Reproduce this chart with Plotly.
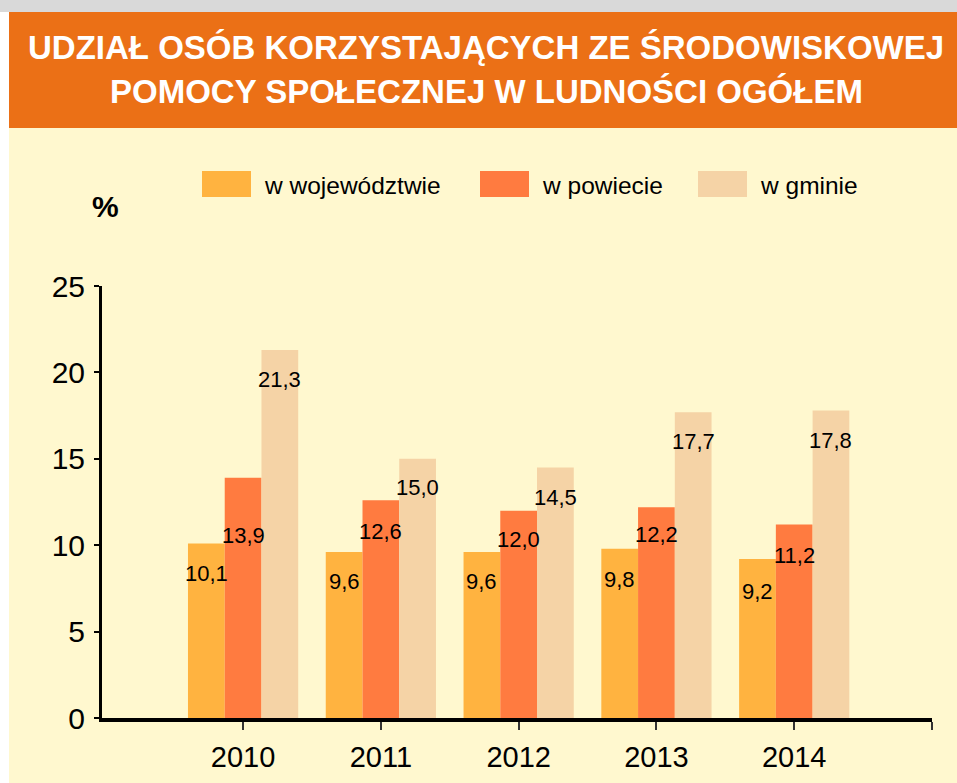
import plotly.graph_objects as go

# --- data ---------------------------------------------------------------
years = ["2010", "2011", "2012", "2013", "2014"]
series_names = ["w województwie", "w powiecie", "w gminie"]
woj = [10.1, 9.6, 9.6, 9.8, 9.2]
pow_ = [13.9, 12.6, 12.0, 12.2, 11.2]
gmi = [21.3, 15.0, 14.5, 17.7, 17.8]
series_values = [woj, pow_, gmi]
y_ticks = [0, 5, 10, 15, 20, 25]

# --- style --------------------------------------------------------------
colors = ["#FFB340", "#FF7B40", "#F5D3A6"]
bg = "#FFF8CF"
header = "#EB7016"
font_family = "Liberation Sans, Arial, sans-serif"
# how far (px) each value label sits below the top of its bar
label_drop = [
    [30, 29, 29, 31, 32],
    [58, 31, 29, 27, 31],
    [30, 29, 30, 29, 30],
]

W, H = 957, 783
L, R, T, B = 102, 25, 286, 65
PW, PH = W - L - R, H - T - B


def px_x(px):
    return (px - L) / PW


def px_y(py):
    return (H - B - py) / PH


BARGAP = 0.2
n_series = len(series_values)
bar_w = (1 - BARGAP) / n_series
xs = list(range(len(years)))

fig = go.Figure()
for k, (name, vals) in enumerate(zip(series_names, series_values)):
    fig.add_trace(go.Bar(
        x=xs, y=vals, name=name,
        marker=dict(color=colors[k], line=dict(width=0)),
        showlegend=False,
    ))

annotations = []
# value labels with a decimal comma
for k, vals in enumerate(series_values):
    off = (k - (n_series - 1) / 2) * bar_w
    for i, v in enumerate(vals):
        annotations.append(dict(
            x=xs[i] + off, y=v, xref="x", yref="y",
            text=f"{v:.1f}".replace(".", ","),
            showarrow=False, yanchor="middle", xanchor="center",
            yshift=-label_drop[k][i],
            font=dict(family=font_family, size=22, color="#000"),
        ))

# title lines
for text, yc in [("UDZIAŁ OSÓB KORZYSTAJĄCYCH ZE ŚRODOWISKOWEJ", 47),
                 ("POMOCY SPOŁECZNEJ W LUDNOŚCI OGÓŁEM", 92)]:
    annotations.append(dict(
        x=px_x(486), y=px_y(yc), xref="paper", yref="paper",
        text=f"<b>{text}</b>", showarrow=False,
        xanchor="center", yanchor="middle",
        font=dict(family=font_family, size=33, color="white"),
    ))

# unit label
annotations.append(dict(
    x=px_x(105), y=px_y(206), xref="paper", yref="paper",
    text="<b>%</b>", showarrow=False, xanchor="center", yanchor="middle",
    font=dict(family=font_family, size=30, color="#000"),
))

shapes = [
    dict(type="rect", xref="paper", yref="paper", layer="below",
         x0=px_x(0), x1=px_x(W), y0=px_y(0), y1=px_y(12),
         fillcolor="#D9D9D9", line=dict(width=0)),
    dict(type="rect", xref="paper", yref="paper", layer="below",
         x0=px_x(0), x1=px_x(9), y0=px_y(12), y1=px_y(H),
         fillcolor="white", line=dict(width=0)),
    dict(type="rect", xref="paper", yref="paper", layer="below",
         x0=px_x(9), x1=px_x(W), y0=px_y(12), y1=px_y(128),
         fillcolor=header, line=dict(width=0)),
]

# legend: wide swatches with labels
legend_x = [202, 480, 698]
for k, name in enumerate(series_names):
    x0 = legend_x[k]
    shapes.append(dict(
        type="rect", xref="paper", yref="paper",
        x0=px_x(x0), x1=px_x(x0 + 49), y0=px_y(197), y1=px_y(171),
        fillcolor=colors[k], line=dict(width=0),
    ))
    annotations.append(dict(
        x=px_x(x0 + 60), y=px_y(185), xref="paper", yref="paper",
        text=name, showarrow=False, xanchor="left", yanchor="middle",
        font=dict(family=font_family, size=24.5, color="#000"),
    ))

fig.update_layout(
    width=W, height=H,
    margin=dict(l=L, r=R, t=T, b=B, pad=0, autoexpand=False),
    paper_bgcolor=bg, plot_bgcolor=bg,
    barmode="group", bargap=BARGAP, bargroupgap=0,
    showlegend=False,
    shapes=shapes, annotations=annotations,
    xaxis=dict(
        range=[-1.024, 5.0], tickvals=xs + [5], ticktext=years + [""],
        automargin=False,
        showgrid=False, zeroline=False,
        showline=True, linecolor="#000", linewidth=3.5,
        ticks="outside", ticklen=8, tickwidth=1.5, tickcolor="#333",
        ticklabelstandoff=2,
        tickfont=dict(family=font_family, size=29, color="#000"),
    ),
    yaxis=dict(
        range=[0, 25], tickvals=y_ticks,
        automargin=False,
        showgrid=False, zeroline=False,
        showline=True, linecolor="#000", linewidth=3,
        ticks="outside", ticklen=5, tickwidth=2, tickcolor="#000",
        ticklabelstandoff=3,
        tickfont=dict(family=font_family, size=30, color="#000"),
    ),
)

fig.write_html("out.html")
